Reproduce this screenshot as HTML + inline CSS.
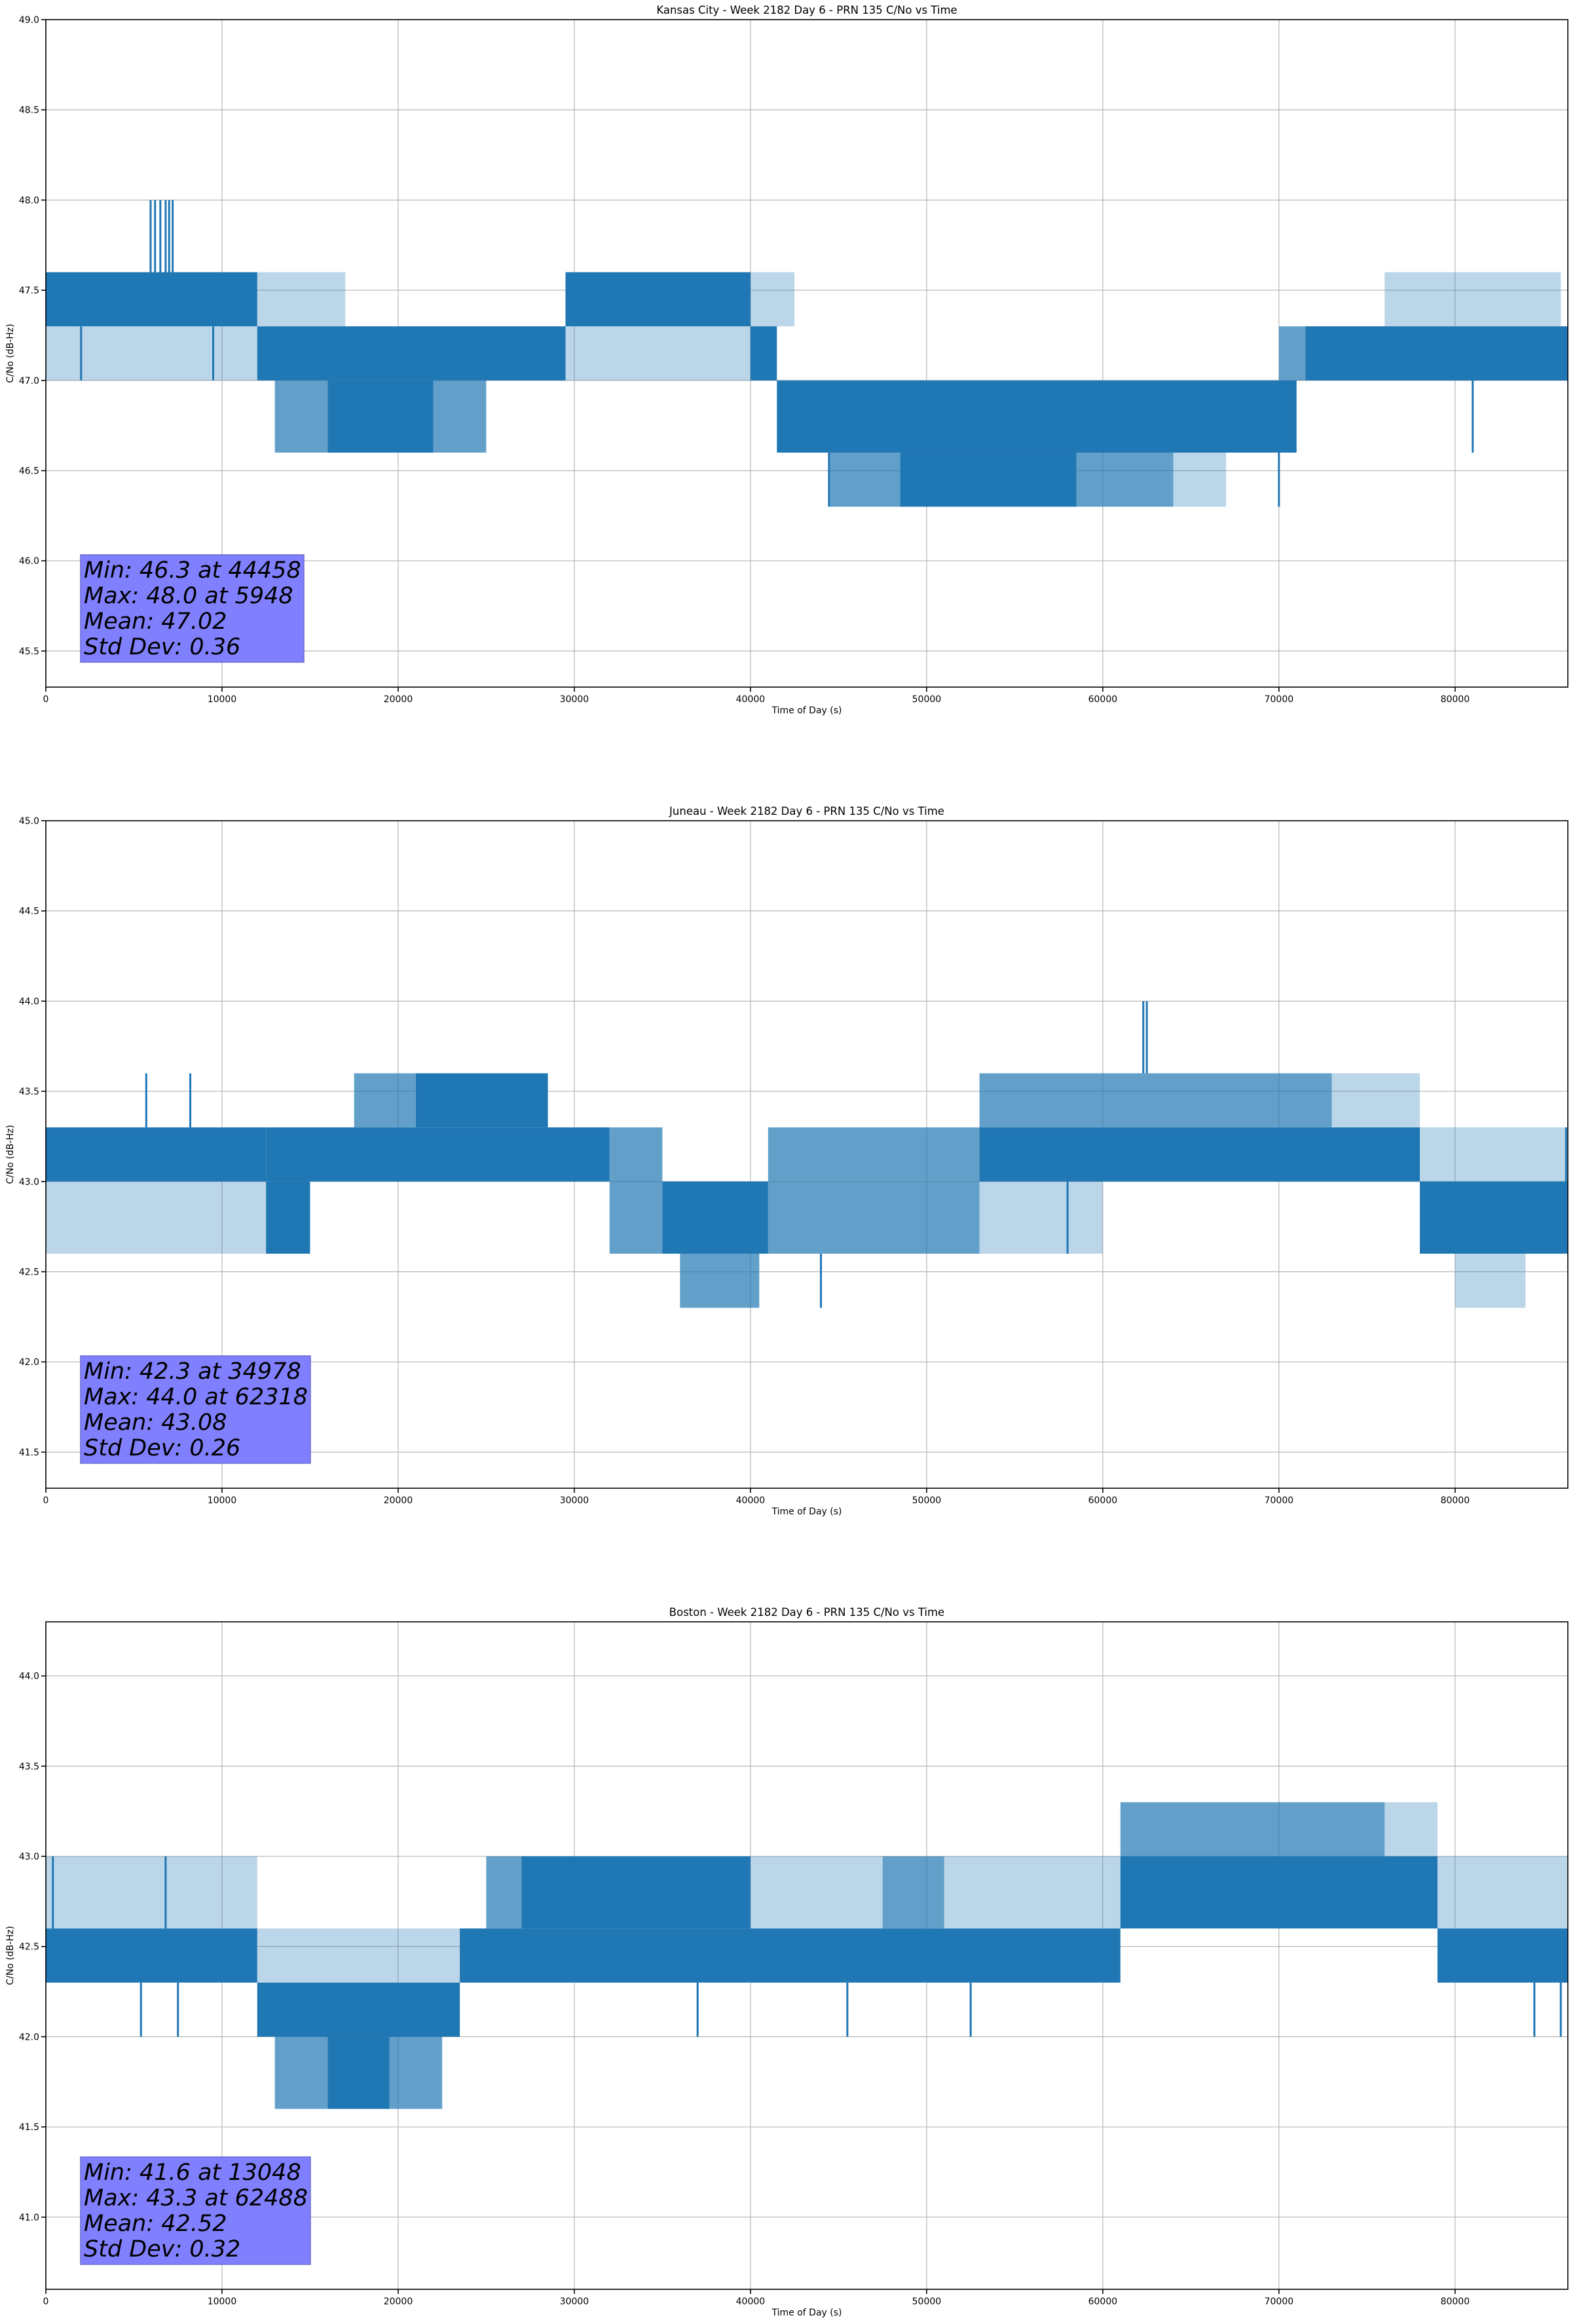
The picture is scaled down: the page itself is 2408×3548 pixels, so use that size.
<!DOCTYPE html>
<html><head><meta charset="utf-8">
<style>
html,body{margin:0;padding:0;background:#fff;}
svg{display:block;font-family:"DejaVu Sans","Liberation Sans",sans-serif;}
</style></head>
<body>
<svg id="fig" width="2408" height="3548" viewBox="0 0 2408 3548" xmlns="http://www.w3.org/2000/svg"></svg>
<script>
// ---------- data (segments: [tStart, tEnd, lo, hi]) ----------
const xTicks = [0,10000,20000,30000,40000,50000,60000,70000,80000];
const titles = ["Kansas City - Week 2182 Day 6 - PRN 135 C/No vs Time",
                "Juneau - Week 2182 Day 6 - PRN 135 C/No vs Time",
                "Boston - Week 2182 Day 6 - PRN 135 C/No vs Time"];
const yLimits = [[45.3,49.0],[41.3,45.0],[40.6,44.3]];
const yTicks1 = [45.5,46.0,46.5,47.0,47.5,48.0,48.5,49.0];
const yTicks2 = [41.5,42.0,42.5,43.0,43.5,44.0,44.5,45.0];
const yTicks3 = [41.0,41.5,42.0,42.5,43.0,43.5,44.0];
const stats1 = ["Min: 46.3 at 44458","Max: 48.0 at 5948","Mean: 47.02","Std Dev: 0.36"];
const stats2 = ["Min: 42.3 at 34978","Max: 44.0 at 62318","Mean: 43.08","Std Dev: 0.26"];
const stats3 = ["Min: 41.6 at 13048","Max: 43.3 at 62488","Mean: 42.52","Std Dev: 0.32"];

const p1Solid = [[0,12000,47.3,47.6],[12000,29500,47.0,47.3],[16000,22000,46.6,47.0],[29500,40000,47.3,47.6],[40000,41500,47.0,47.3],[41500,71000,46.6,47.0],[48500,58500,46.3,46.6],[71500,86400,47.0,47.3]];
const p1Dense = [[13000,16000,46.6,47.0],[22000,25000,46.6,47.0],[44500,48500,46.3,46.6],[58500,64000,46.3,46.6],[70000,71500,47.0,47.3]];
const p1Sparse = [[0,12000,47.0,47.3],[12000,17000,47.3,47.6],[29500,40000,47.0,47.3],[64000,67000,46.3,46.6],[76000,86000,47.3,47.6],[40000,42500,47.3,47.6]];
const p1Spikes = [[5948,47.6,48.0],[6200,47.6,48.0],[6500,47.6,48.0],[6800,47.6,48.0],[7000,47.6,48.0],[7200,47.6,48.0],[44458,46.3,46.6],[70000,46.3,46.6],[81000,46.6,47.0],[2000,47.0,47.3],[9500,47.0,47.3]];

const p2Solid = [[0,12500,43.0,43.3],[12500,15000,42.6,43.0],[12500,32000,43.0,43.3],[21000,28500,43.3,43.6],[35000,41000,42.6,43.0],[53000,78000,43.0,43.3],[78000,86400,42.6,43.0]];
const p2Dense = [[17500,21000,43.3,43.6],[36000,40500,42.3,42.6],[41000,53000,42.6,43.0],[41000,53000,43.0,43.3],[53000,73000,43.3,43.6],[32000,35000,42.6,43.3]];
const p2Sparse = [[0,12500,42.6,43.0],[78000,86400,43.0,43.3],[80000,84000,42.3,42.6],[73000,78000,43.3,43.6],[53000,60000,42.6,43.0]];
const p2Spikes = [[5700,43.3,43.6],[8200,43.3,43.6],[62300,43.6,44.0],[62500,43.6,44.0],[44000,42.3,42.6],[58000,42.6,43.0],[86300,43.0,43.3]];

const p3Solid = [[0,12000,42.3,42.6],[12000,23500,42.0,42.3],[23500,61000,42.3,42.6],[27000,40000,42.6,43.0],[61000,79000,42.6,43.0],[79000,86400,42.3,42.6],[16000,19500,41.6,42.0]];
const p3Dense = [[13000,16000,41.6,42.0],[19500,22500,41.6,42.0],[47500,51000,42.6,43.0],[25000,27000,42.6,43.0],[61000,76000,43.0,43.3]];
const p3Sparse = [[0,12000,42.6,43.0],[40000,47500,42.6,43.0],[51000,61000,42.6,43.0],[76000,79000,43.0,43.3],[79000,86400,42.6,43.0],[12000,23500,42.3,42.6]];
const p3Spikes = [[5400,42.0,42.3],[7500,42.0,42.3],[37000,42.0,42.3],[45500,42.0,42.3],[52500,42.0,42.3],[84500,42.0,42.3],[86000,42.0,42.3],[6800,42.6,43.0],[400,42.6,43.0]];

// ---------- layout ----------
const NS = "http://www.w3.org/2000/svg";
const svg = document.getElementById('fig');
const L = 70, R = 2394, H = 1019, XMAX = 86400;
const tops = [30, 1253, 2476];
const color = "#1f77b4";
function mk(tag, attrs, parent){ const e=document.createElementNS(NS,tag); for(const k in attrs) e.setAttribute(k,attrs[k]); (parent||svg).appendChild(e); return e; }
function xs(t){ return L + t/XMAX*(R-L); }

const allY = [yTicks1,yTicks2,yTicks3];
const allStats = [stats1,stats2,stats3];
const allSolid=[p1Solid,p2Solid,p3Solid], allDense=[p1Dense,p2Dense,p3Dense], allSparse=[p1Sparse,p2Sparse,p3Sparse], allSpikes=[p1Spikes,p2Spikes,p3Spikes];
const boxW = [341,351,351];

for(let i=0;i<3;i++){
  const top = tops[i], bot = top+H, [y0,y1] = yLimits[i];
  const ys = v => bot - (v-y0)/(y1-y0)*H;
  const g = mk('g',{});
  
  
  xTicks.forEach(t=>{
    const l=mk('line',{x1:xs(t),x2:xs(t),y1:top,y2:bot,stroke:'#b0b0b0','stroke-width':1.1},g);
    
    
  });
  allY[i].forEach(v=>{
    const l=mk('line',{x1:L,x2:R,y1:ys(v),y2:ys(v),stroke:'#b0b0b0','stroke-width':1.1},g);
    
    
  });
  const clip = mk('clipPath',{id:'c'+i},g); mk('rect',{x:L,y:top,width:R-L,height:H},clip);
  const sg = mk('g',{'clip-path':'url(#c'+i+')'},g);
  
  
  const band=(arr,op)=>arr.forEach(s=>{
    const r=mk('rect',{x:xs(s[0]),y:ys(s[3]),width:xs(s[1])-xs(s[0]),height:ys(s[2])-ys(s[3]),fill:color,'fill-opacity':op},sg);
    
    
  });
  band(allSparse[i],0.3); band(allDense[i],0.7); band(allSolid[i],1);
  allSpikes[i].forEach(s=>{
    const l=mk('line',{x1:xs(s[0]),x2:xs(s[0]),y1:ys(s[1]),y2:ys(s[2]),stroke:color,'stroke-width':3},sg);
    
    
  });
  const fr=mk('rect',{x:L,y:top,width:R-L,height:H,fill:'none',stroke:'#000','stroke-width':1.6},g);
  
  
  xTicks.forEach(t=>{
    mk('line',{x1:xs(t),x2:xs(t),y1:bot,y2:bot+7,stroke:'#000','stroke-width':1.6},g);
    const tx=mk('text',{x:xs(t),y:bot+23,'font-size':14,'text-anchor':'middle',fill:'#000'},g);
    tx.textContent=t;
    
    
  });
  allY[i].forEach(v=>{
    mk('line',{x1:L-7,x2:L,y1:ys(v),y2:ys(v),stroke:'#000','stroke-width':1.6},g);
    const tx=mk('text',{x:L-10,y:ys(v)+5,'font-size':14,'text-anchor':'end',fill:'#000'},g);
    tx.textContent=v.toFixed(1);
    
    
  });
  const ti=mk('text',{x:(L+R)/2,y:top-9,'font-size':16.5,'text-anchor':'middle',fill:'#000'},g);
  ti.textContent=titles[i];
  
  
  const xl=mk('text',{x:(L+R)/2,y:bot+40,'font-size':14,'text-anchor':'middle',fill:'#000'},g);
  xl.textContent='Time of Day (s)';
  
  
  const cy=(top+bot)/2;
  const yl=mk('text',{x:20,y:cy,'font-size':14,'text-anchor':'middle',fill:'#000',transform:'rotate(-90 20 '+cy+')'},g);
  yl.textContent='C/No (dB-Hz)';
  
  
  const bx=123, by=top+817;
  const box=mk('rect',{x:bx,y:by,width:boxW[i],height:164,fill:'#8080ff',stroke:'#6a6ad0','stroke-width':1.5},g);
  
  
  allStats[i].forEach((s,k)=>{
    const tx=mk('text',{x:bx+5,y:by+35+k*39,'font-size':35,'font-style':'italic',fill:'#000'},g);
    tx.textContent=s;
    
    
  });
}
</script>
</body></html>
